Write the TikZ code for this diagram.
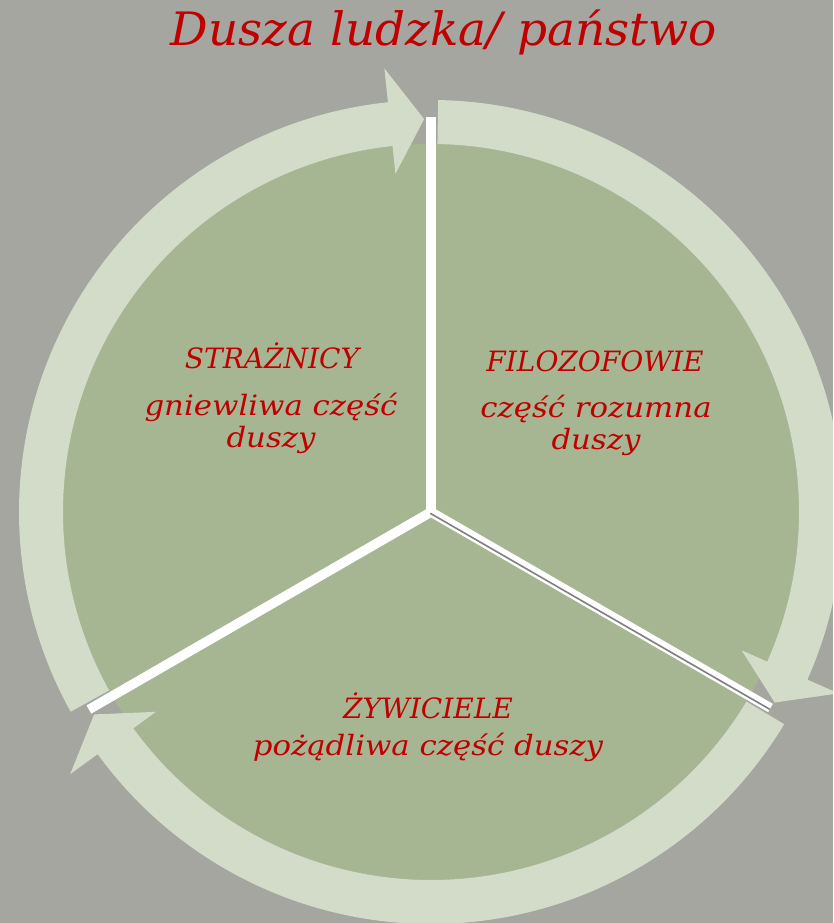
\documentclass[tikz,border=0pt]{standalone}
\usepackage{fontspec}
\setmainfont{DejaVu Serif}
\usepackage{xcolor}
\usepackage{tikz}
\usetikzlibrary{positioning,calc}
\definecolor{bgGray}{HTML}{A4A69F}
\definecolor{ringLight}{HTML}{D2DCC8}
\definecolor{wedgeGreen}{HTML}{A7B692}
\definecolor{soulRed}{HTML}{C00000}
\tikzset{
  titletext/.style={text=soulRed,font=\fontsize{46}{54}\selectfont\itshape\addfontfeature{FakeStretch=1.02},inner sep=0pt,anchor=base},
  partname/.style={text=soulRed,font=\fontsize{28}{32}\selectfont\itshape,inner sep=0pt,anchor=base},
  parttext/.style={text=soulRed,font=\fontsize{28}{32}\selectfont\itshape\addfontfeature{FakeStretch=1.1},inner sep=0pt,anchor=base,align=center},
  sepline/.style={white,line width=9.5pt},
  ringarrow/.style={fill=ringLight},
}
% ring piece from #1 (clockwise) to #2, arrow head at #2
\newcommand\ringpiece[2]{%
  \fill[ringarrow] (#1-1:368) arc[start angle=#1-1, end angle=#2+6, radius=368]
    -- (#2+6:340) -- (#2+1:393) -- (#2+6:446) -- (#2+6:412)
    arc[start angle=#2+6, end angle=#1-1, radius=412] -- cycle;}

\begin{document}
\begin{tikzpicture}[x=1pt,y=1pt]
\useasboundingbox (0,0) rectangle (833,923);
\clip (0,0) rectangle (833,923);
\fill[bgGray] (0,0) rectangle (833,923);

\begin{scope}[shift={(431,411)}]
\coordinate (hub) at (0,0);
\fill[wedgeGreen] (hub) circle[radius=368];
\ringpiece{210}{90}
\ringpiece{90}{-30}
\ringpiece{-30}{-150}
\coordinate (topEnd) at (90:395);
\coordinate (rightEnd) at (-30:392);
\coordinate (leftEnd) at (210:395);
\draw[sepline] (hub) -- (topEnd);
\draw[sepline] (hub) -- (leftEnd);
\draw[sepline] (hub) -- (rightEnd);
\draw[gray,line width=1.6pt] ($(hub)+(-120:1.5)$) -- ($(rightEnd)+(-120:1.5)$);
\end{scope}

\node[titletext] (title) at (444,877) {Dusza ludzka/ państwo};

\node[partname] (guards) at (272,554) {STRAŻNICY};
\node[parttext] (guardsSoul) at (271,475) {gniewliwa część\\duszy};

\node[partname] (rulers) at (595,551) {FILOZOFOWIE};
\node[parttext] (rulersSoul) at (596,473) {część rozumna\\duszy};

\node[partname] (feeders) at (428,204) {ŻYWICIELE};
\node[parttext] (feedersSoul) at (428,167) {pożądliwa część duszy};
\end{tikzpicture}
\end{document}
